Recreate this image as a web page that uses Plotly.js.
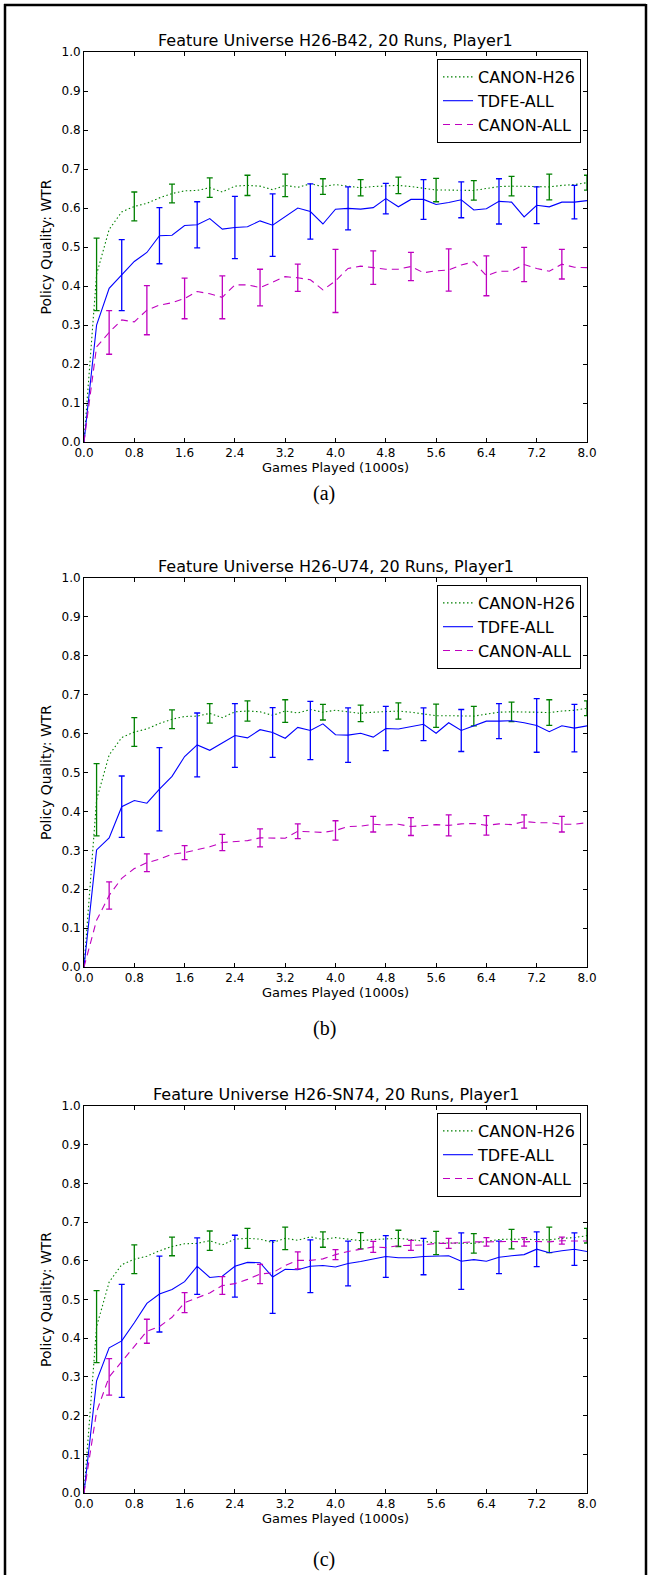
<!DOCTYPE html>
<html><head><meta charset="utf-8">
<script src="https://cdn.plot.ly/plotly-3.0.1.min.js"></script>
<style>html,body{margin:0;padding:0;background:#fff;} #chart{width:648px;height:1575px;}</style>
</head><body><div id="chart"></div>
<script>
// ---------- data ----------
const games = [0.0,0.2,0.4,0.6,0.8,1.0,1.2,1.4,1.6,1.8,2.0,2.2,2.4,2.6,2.8,3.0,3.2,3.4,3.6,3.8,4.0,
               4.2,4.4,4.6,4.8,5.0,5.2,5.4,5.6,5.8,6.0,6.2,6.4,6.6,6.8,7.0,7.2,7.4,7.6,7.8,8.0];
const xTickVals = [0.0,0.8,1.6,2.4,3.2,4.0,4.8,5.6,6.4,7.2,8.0];
const xTickText = ["0.0","0.8","1.6","2.4","3.2","4.0","4.8","5.6","6.4","7.2","8.0"];
const yTickVals = [0.0,0.1,0.2,0.3,0.4,0.5,0.6,0.7,0.8,0.9,1.0];
const yTickText = ["0.0","0.1","0.2","0.3","0.4","0.5","0.6","0.7","0.8","0.9","1.0"];
const seriesNames = ["CANON-H26","TDFE-ALL","CANON-ALL"];
const panelTitles = ["Feature Universe H26-B42, 20 Runs, Player1",
                     "Feature Universe H26-U74, 20 Runs, Player1",
                     "Feature Universe H26-SN74, 20 Runs, Player1"];
const panelCaptions = ["(a)","(b)","(c)"];
const xLabel = "Games Played (1000s)";
const yLabel = "Policy Quality: WTR";

// error-bar positions (games, 1000s)
const canonH26ErrX = [0.2,0.8,1.4,2.0,2.6,3.2,3.8,4.4,5.0,5.6,6.2,6.8,7.4,8.0];
const tdfeErrX     = [0.6,1.2,1.8,2.4,3.0,3.6,4.2,4.8,5.4,6.0,6.6,7.2,7.8];
const canonAllErrX = [0.4,1.0,1.6,2.2,2.8,3.4,4.0,4.6,5.2,5.8,6.4,7.0,7.6];

// CANON-H26 (same baseline in every panel)
const canonH26 = [0,0.430,0.545,0.590,0.604,0.612,0.626,0.637,0.644,0.645,0.652,0.641,0.656,0.658,0.656,0.647,
                  0.658,0.653,0.662,0.655,0.660,0.656,0.652,0.655,0.656,0.658,0.655,0.650,0.646,0.646,0.645,
                  0.645,0.650,0.655,0.656,0.656,0.655,0.654,0.658,0.660,0.665];
const canonH26Err = [0.093,0.037,0.024,0.025,0.026,0.029,0.020,0.021,0.021,0.030,0.025,0.025,0.033,0.019];

// panel (a) H26-B42
const tdfeA = [0,0.300,0.394,0.428,0.463,0.486,0.529,0.530,0.555,0.557,0.573,0.546,0.550,0.552,0.567,0.556,
               0.578,0.600,0.591,0.559,0.597,0.599,0.597,0.601,0.624,0.603,0.622,0.622,0.609,0.614,0.621,
               0.595,0.598,0.617,0.615,0.577,0.607,0.603,0.615,0.615,0.619];
const tdfeAErr = [0.091,0.072,0.059,0.080,0.080,0.071,0.055,0.039,0.051,0.046,0.058,0.047,0.043];
const canonAllA = [0,0.244,0.281,0.313,0.308,0.338,0.351,0.357,0.368,0.386,0.380,0.371,0.403,0.403,0.396,0.411,
                   0.424,0.421,0.416,0.390,0.413,0.445,0.451,0.447,0.443,0.443,0.450,0.434,0.439,0.441,0.454,
                   0.462,0.426,0.438,0.438,0.455,0.445,0.438,0.456,0.448,0.447];
const canonAllAErr = [0.056,0.063,0.052,0.055,0.047,0.035,0.081,0.043,0.036,0.054,0.051,0.044,0.038];

// panel (b) H26-U74
const tdfeB = [0,0.301,0.332,0.412,0.428,0.421,0.457,0.490,0.541,0.571,0.557,0.576,0.595,0.589,0.610,0.603,
               0.588,0.616,0.608,0.625,0.597,0.596,0.601,0.591,0.613,0.612,0.618,0.624,0.601,0.628,0.608,
               0.620,0.632,0.632,0.633,0.628,0.621,0.605,0.620,0.614,0.620];
const tdfeBErr = [0.079,0.107,0.082,0.082,0.064,0.075,0.070,0.057,0.042,0.054,0.045,0.069,0.061];
const canonAllB = [0,0.120,0.184,0.228,0.253,0.268,0.277,0.290,0.294,0.302,0.309,0.320,0.322,0.325,0.332,0.331,
                   0.331,0.349,0.348,0.346,0.351,0.361,0.362,0.367,0.365,0.367,0.361,0.364,0.366,0.364,0.368,
                   0.369,0.364,0.368,0.366,0.374,0.371,0.371,0.367,0.367,0.371];
const canonAllBErr = [0.035,0.023,0.018,0.021,0.023,0.019,0.025,0.020,0.023,0.027,0.025,0.017,0.020];

// panel (c) H26-SN74
const tdfeC = [0,0.290,0.375,0.393,0.440,0.490,0.514,0.526,0.546,0.586,0.557,0.560,0.586,0.596,0.595,0.558,
               0.578,0.577,0.586,0.588,0.584,0.593,0.598,0.605,0.611,0.608,0.608,0.611,0.612,0.613,0.599,
               0.603,0.599,0.609,0.613,0.616,0.630,0.621,0.626,0.630,0.624];
const tdfeCErr = [0.146,0.098,0.073,0.080,0.094,0.068,0.058,0.054,0.047,0.073,0.042,0.045,0.042];
const canonAllC = [0,0.210,0.300,0.339,0.378,0.418,0.430,0.454,0.492,0.505,0.517,0.536,0.541,0.552,0.566,0.569,
                   0.588,0.601,0.601,0.605,0.616,0.624,0.630,0.636,0.634,0.639,0.640,0.641,0.645,0.645,0.647,
                   0.649,0.649,0.650,0.650,0.649,0.650,0.649,0.652,0.651,0.651];
const canonAllCErr = [0.047,0.031,0.026,0.023,0.025,0.022,0.013,0.014,0.013,0.013,0.011,0.011,0.009];

// ---------- styling / layout ----------
const W = 648, H = 1575;
const FONT = "DejaVu Sans, Bitstream Vera Sans, sans-serif";
const colors = ["#008000", "#0000ff", "#bf00bf"];
const dashes = ["1.5px,2.5px", "solid", "7px,5px"];
const panelTop = [52, 578, 1106];
const panelBottom = [442, 967, 1493];
const axLeft = 84, axRight = 587;
const captionY = [494, 1028, 1559];
const px = p => p / W;
const py = p => 1 - p / H;

const panels = [
  {tdfe: tdfeA, tdfeErr: tdfeAErr, all: canonAllA, allErr: canonAllAErr},
  {tdfe: tdfeB, tdfeErr: tdfeBErr, all: canonAllB, allErr: canonAllBErr},
  {tdfe: tdfeC, tdfeErr: tdfeCErr, all: canonAllC, allErr: canonAllCErr}
];

const traces = [];
const layout = {
  width: W, height: H,
  margin: {l: 0, r: 0, t: 0, b: 0},
  paper_bgcolor: "#ffffff", plot_bgcolor: "#ffffff",
  font: {family: FONT, color: "#000000"},
  showlegend: true,
  annotations: [], shapes: []
};

function centersAt(xsub, series) {
  return xsub.map(x => series[games.findIndex(g => Math.abs(g - x) < 1e-9)]);
}

panels.forEach((p, i) => {
  const sfx = i === 0 ? "" : String(i + 1);
  const xa = "x" + sfx, ya = "y" + sfx;
  const lg = "legend" + sfx;
  const lines = [canonH26, p.tdfe, p.all];
  const errX = [canonH26ErrX, tdfeErrX, canonAllErrX];
  const errV = [canonH26Err, p.tdfeErr, p.allErr];
  for (let s = 0; s < 3; s++) {
    traces.push({
      type: "scatter", mode: "lines", x: games, y: lines[s],
      xaxis: xa, yaxis: ya, name: seriesNames[s], legend: lg,
      line: {color: colors[s], width: 1.1, dash: dashes[s]},
      hoverinfo: "skip"
    });
    traces.push({
      type: "scatter", mode: "markers", x: errX[s], y: centersAt(errX[s], lines[s]),
      xaxis: xa, yaxis: ya, showlegend: false, legend: lg,
      marker: {size: 1, opacity: 0, color: colors[s]},
      error_y: {type: "data", array: errV[s], visible: true, color: colors[s], thickness: 1.3, width: 3},
      hoverinfo: "skip"
    });
  }
  const common = {
    showline: true, linecolor: "#000", linewidth: 1, mirror: "allticks",
    ticks: "inside", ticklen: 4, tickwidth: 1, tickcolor: "#000",
    showgrid: false, zeroline: false, automargin: false, fixedrange: true,
    tickfont: {family: FONT, size: 12, color: "#000"}
  };
  layout["xaxis" + sfx] = Object.assign({}, common, {
    domain: [px(axLeft), px(axRight)], anchor: ya, range: [0, 8],
    tickmode: "array", tickvals: xTickVals, ticktext: xTickText,
    title: {text: xLabel, font: {family: FONT, size: 13, color: "#000"}, standoff: 2}
  });
  layout["yaxis" + sfx] = Object.assign({}, common, {
    domain: [py(panelBottom[i]), py(panelTop[i])], anchor: xa, range: [0, 1],
    tickmode: "array", tickvals: yTickVals, ticktext: yTickText,
    title: {text: yLabel, font: {family: FONT, size: 14, color: "#000"}, standoff: 6}
  });
  layout[lg] = {
    x: px(581), xanchor: "right", y: py(panelTop[i] + 7), yanchor: "top",
    bgcolor: "#ffffff", bordercolor: "#000", borderwidth: 1,
    font: {family: FONT, size: 16, color: "#000"}, traceorder: "normal"
  };
  layout.annotations.push({
    text: panelTitles[i], xref: "paper", yref: "paper",
    x: px((axLeft + axRight) / 2), y: py(panelTop[i] - 12), xanchor: "center", yanchor: "middle",
    showarrow: false, font: {family: FONT, size: 16, color: "#000"}
  });
  layout.annotations.push({
    text: panelCaptions[i], xref: "paper", yref: "paper",
    x: px(324), y: py(captionY[i]), xanchor: "center", yanchor: "middle",
    showarrow: false, font: {family: "Liberation Serif, Times New Roman, serif", size: 20, color: "#000"}
  });
});

// page frame
layout.shapes.push(
  {type: "line", xref: "paper", yref: "paper", x0: px(5), x1: px(5), y0: py(4), y1: py(H), line: {color: "#000", width: 2.5}},
  {type: "line", xref: "paper", yref: "paper", x0: px(4), x1: px(646), y0: py(5), y1: py(5), line: {color: "#000", width: 2.5}},
  {type: "line", xref: "paper", yref: "paper", x0: px(646), x1: px(646), y0: py(4), y1: py(H), line: {color: "#000", width: 2.5}}
);

Plotly.newPlot("chart", traces, layout, {staticPlot: true, displayModeBar: false});
</script>
</body></html>
